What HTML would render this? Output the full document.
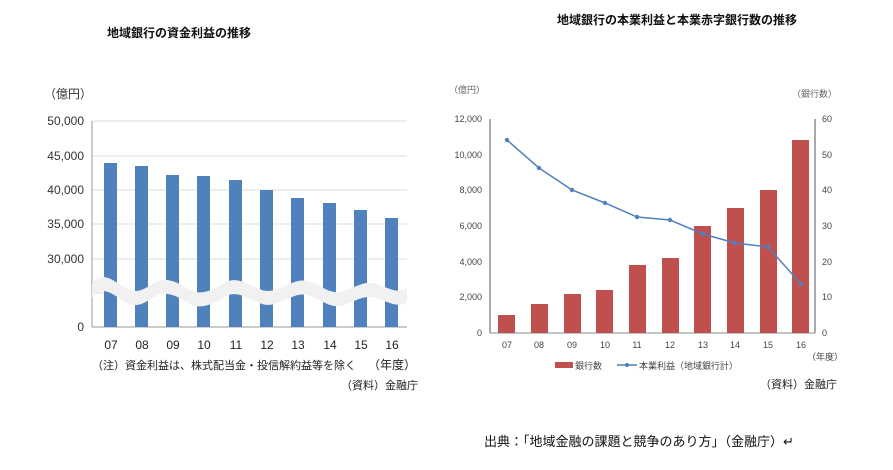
<!DOCTYPE html><html><head><meta charset="utf-8"><style>
body{margin:0;background:#fff;width:893px;height:465px;overflow:hidden}
svg text{font-family:"Liberation Sans","Noto Sans CJK JP",sans-serif}
</style></head><body>
<svg width="893" height="465" viewBox="0 0 893 465" xmlns="http://www.w3.org/2000/svg">
<text x="107" y="37" font-size="12" font-weight="bold" fill="#111">地域銀行の資金利益の推移</text>
<text x="557" y="24" font-size="12" font-weight="bold" fill="#111">地域銀行の本業利益と本業赤字銀行数の推移</text>
<!-- left chart -->
<text x="44" y="98" font-size="12" fill="#333">（億円）</text>
<g stroke="#ddd" stroke-width="1">
<line x1="92" y1="121" x2="407" y2="121"/><line x1="92" y1="156" x2="407" y2="156"/><line x1="92" y1="190" x2="407" y2="190"/><line x1="92" y1="224" x2="407" y2="224"/><line x1="92" y1="259" x2="407" y2="259"/><line x1="92" y1="293" x2="407" y2="293"/></g>
<line x1="92" y1="121" x2="92" y2="327" stroke="#999"/>
<line x1="92" y1="327" x2="407" y2="327" stroke="#999"/>
<g font-size="12" fill="#333" text-anchor="end">
<text x="84" y="125">50,000</text><text x="84" y="160">45,000</text><text x="84" y="194">40,000</text><text x="84" y="228">35,000</text><text x="84" y="263">30,000</text><text x="84" y="331">0</text></g>
<g fill="#4f81bd">
<rect x="104" y="163" width="13" height="164"/><rect x="135" y="166" width="13" height="161"/><rect x="166" y="175" width="13" height="152"/><rect x="197" y="176" width="13" height="151"/><rect x="229" y="180" width="13" height="147"/><rect x="260" y="190" width="13" height="137"/><rect x="291" y="198" width="13" height="129"/><rect x="323" y="203" width="13" height="124"/><rect x="354" y="210" width="13" height="117"/><rect x="385" y="218" width="13" height="109"/></g>
<path d="M92,284 C102,270 112,280 124,287 C136,296 146,288 156,282 C168,276 180,284 190,290 C200,296 214,290 226,282 C238,276 250,286 262,290 C274,294 286,284 298,281 C312,278 322,290 334,292 C346,294 358,282 370,283 C384,284 396,296 407,288 L407,302 C396,310 384,298 370,297 C358,296 346,308 334,306 C322,304 312,292 298,295 C286,298 274,308 262,304 C250,300 238,290 226,296 C214,304 200,310 190,304 C180,298 168,290 156,296 C146,302 136,310 124,301 C112,294 102,284 92,298 Z" fill="#f1f1f1"/>
<g font-size="12" fill="#222" text-anchor="middle">
<text x="111" y="349">07</text><text x="142" y="349">08</text><text x="173" y="349">09</text><text x="204" y="349">10</text><text x="236" y="349">11</text><text x="267" y="349">12</text><text x="298" y="349">13</text><text x="330" y="349">14</text><text x="361" y="349">15</text><text x="392" y="349">16</text></g>
<text x="92" y="369" font-size="11" fill="#222">（注）資金利益は、株式配当金・投信解約益等を除く</text>
<text x="368" y="369" font-size="12" fill="#222">（年度）</text>
<text x="341" y="389" font-size="11" fill="#222">（資料）金融庁</text>
<!-- right chart -->
<text x="449" y="93" font-size="9" fill="#666">（億円）</text>
<text x="792" y="97" font-size="9" fill="#666">（銀行数）</text>
<line x1="490" y1="119" x2="490" y2="333" stroke="#555"/>
<line x1="815" y1="119" x2="815" y2="333" stroke="#555"/>
<line x1="490" y1="333" x2="815" y2="333" stroke="#888"/>
<g font-size="9" fill="#444" text-anchor="end">
<text x="482" y="122">12,000</text><text x="482" y="158">10,000</text><text x="482" y="193">8,000</text><text x="482" y="229">6,000</text><text x="482" y="265">4,000</text><text x="482" y="300">2,000</text><text x="482" y="336">0</text></g>
<g font-size="9" fill="#444">
<text x="822" y="122">60</text><text x="822" y="158">50</text><text x="822" y="193">40</text><text x="822" y="229">30</text><text x="822" y="265">20</text><text x="822" y="300">10</text><text x="822" y="336">0</text></g>
<g fill="#c0504d">
<rect x="498" y="315" width="17" height="18"/><rect x="531" y="304" width="17" height="29"/><rect x="564" y="294" width="17" height="39"/><rect x="596" y="290" width="17" height="43"/><rect x="629" y="265" width="17" height="68"/><rect x="662" y="258" width="17" height="75"/><rect x="694" y="226" width="17" height="107"/><rect x="727" y="208" width="17" height="125"/><rect x="760" y="190" width="17" height="143"/><rect x="792" y="140" width="17" height="193"/></g>
<polyline fill="none" stroke="#4f81bd" stroke-width="1.5" points="507,140 539,168 572,190 605,203 637,217 670,220 703,234 735,243 768,247 801,284"/>
<g fill="#4f81bd"><circle cx="507" cy="140" r="2.2"/><circle cx="539" cy="168" r="2.2"/><circle cx="572" cy="190" r="2.2"/><circle cx="605" cy="203" r="2.2"/><circle cx="637" cy="217" r="2.2"/><circle cx="670" cy="220" r="2.2"/><circle cx="703" cy="234" r="2.2"/><circle cx="735" cy="243" r="2.2"/><circle cx="768" cy="247" r="2.2"/><circle cx="801" cy="284" r="2.2"/></g>
<g font-size="9" fill="#444" text-anchor="middle">
<text x="507" y="348">07</text><text x="539" y="348">08</text><text x="572" y="348">09</text><text x="605" y="348">10</text><text x="637" y="348">11</text><text x="670" y="348">12</text><text x="703" y="348">13</text><text x="735" y="348">14</text><text x="768" y="348">15</text><text x="801" y="348">16</text></g>
<text x="807" y="360" font-size="9" fill="#444">（年度）</text>
<rect x="555" y="362" width="18" height="6" fill="#c0504d"/>
<text x="575" y="369" font-size="9" fill="#444">銀行数</text>
<line x1="617" y1="365" x2="637" y2="365" stroke="#4f81bd" stroke-width="1.5"/><circle cx="627" cy="365" r="2" fill="#4f81bd"/>
<text x="639" y="369" font-size="9" fill="#444">本業利益（地域銀行計）</text>
<text x="760" y="388" font-size="11" fill="#222">（資料）金融庁</text>
<text x="484" y="446" font-size="13" fill="#111" font-family="'Liberation Serif','Noto Serif CJK SC',serif">出典：「地域金融の課題と競争のあり方」（金融庁）↵</text>
</svg>
</body></html>
